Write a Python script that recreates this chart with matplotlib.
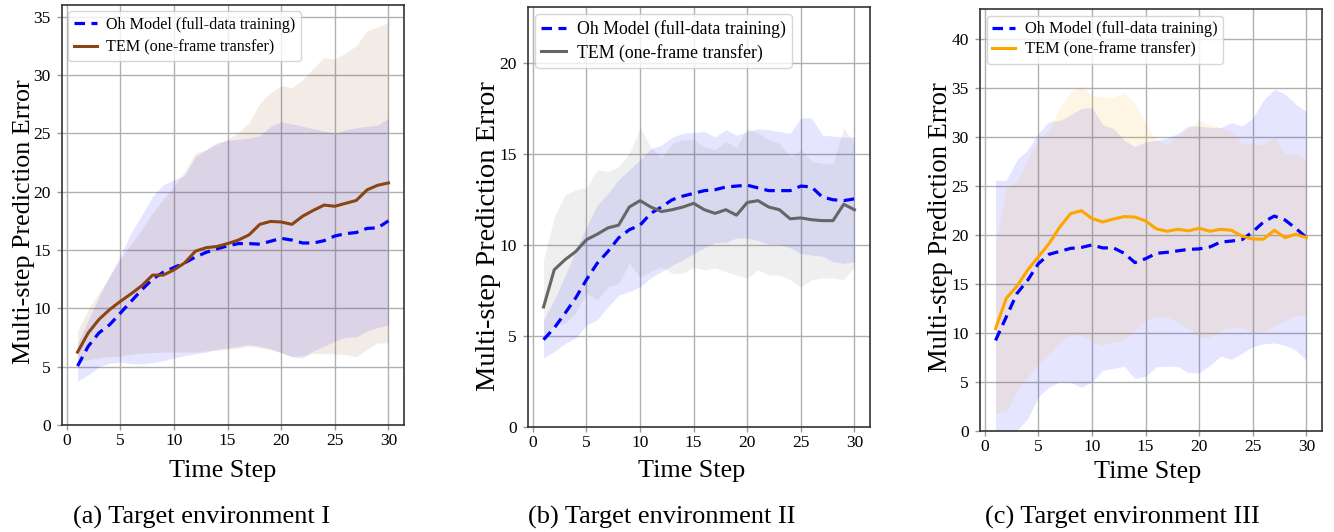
import numpy as np
import matplotlib
matplotlib.use("Agg")
import matplotlib.pyplot as plt

plt.rcParams['font.family'] = ['Liberation Serif', 'DejaVu Serif']
plt.rcParams['mathtext.fontset'] = 'stix'

steps = list(range(1, 31))

# ---------------- Panel (a) ----------------
a_oh_mean = [5.05, 6.75, 7.9, 8.6, 9.6, 10.6, 11.6, 12.5, 13.1, 13.5, 13.9, 14.4, 14.8, 15.1, 15.35,
             15.55, 15.55, 15.5, 15.75, 16.0, 15.85, 15.6, 15.6, 15.8, 16.2, 16.4, 16.5, 16.85, 16.9, 17.5]
a_oh_upper = [7.0, 9.0, 11.0, 12.8, 14.5, 16.5, 18.0, 19.6, 20.6, 21.0, 21.4, 23.0, 23.6, 24.2, 24.4,
              24.5, 24.6, 24.8, 25.6, 26.0, 25.8, 25.6, 25.4, 25.2, 25.0, 25.3, 25.5, 25.6, 25.7, 26.3]
a_oh_lower = [3.75, 4.3, 5.0, 5.3, 5.4, 5.25, 5.25, 5.35, 5.5, 5.75, 5.95, 6.1, 6.25, 6.5, 6.6,
              6.75, 6.9, 6.75, 6.5, 6.2, 5.85, 5.75, 6.35, 6.75, 7.2, 7.5, 7.55, 8.05, 8.35, 8.6]
a_tem_mean = [6.25, 7.9, 9.05, 9.9, 10.6, 11.25, 11.95, 12.85, 12.85, 13.3, 13.9, 14.9, 15.2, 15.3, 15.55,
              15.85, 16.3, 17.2, 17.45, 17.4, 17.2, 17.9, 18.4, 18.85, 18.75, 19.0, 19.25, 20.15, 20.55, 20.75]
a_tem_upper = [8.05, 9.9, 11.35, 12.75, 14.2, 15.5, 16.8, 18.2, 19.35, 20.5, 21.75, 23.3, 23.6, 24.05, 24.5,
               25.05, 25.9, 27.6, 28.5, 29.1, 28.9, 29.6, 30.6, 31.5, 31.35, 31.9, 32.5, 33.8, 34.1, 34.5]
a_tem_lower = [5.5, 5.6, 5.75, 5.85, 5.9, 6.05, 6.15, 6.2, 6.25, 6.25, 6.25, 6.25, 6.35, 6.4, 6.5,
               6.6, 6.75, 6.6, 6.5, 6.2, 5.85, 5.95, 6.15, 6.1, 6.1, 6.05, 5.85, 6.5, 7.05, 7.05]

# ---------------- Panel (b) ----------------
b_oh_mean = [4.8, 5.45, 6.25, 7.1, 8.1, 9.0, 9.65, 10.4, 10.85, 11.1, 11.75, 12.1, 12.5, 12.7, 12.85,
             13.0, 13.05, 13.2, 13.25, 13.3, 13.15, 13.0, 13.0, 13.0, 13.25, 13.2, 12.65, 12.5, 12.45, 12.55]
b_oh_upper = [5.9, 7.0, 8.3, 9.75, 11.0, 12.2, 12.85, 13.6, 14.15, 14.7, 15.3, 15.5, 15.95, 16.15, 16.2,
              16.25, 15.95, 16.35, 16.05, 16.25, 16.4, 16.35, 16.25, 16.15, 17.0, 17.0, 16.05, 16.0, 15.95, 15.95]
b_oh_lower = [3.8, 4.15, 4.6, 4.9, 5.6, 5.9, 6.6, 7.25, 7.45, 7.7, 8.2, 8.55, 8.9, 9.2, 9.55,
              9.85, 10.15, 10.15, 10.4, 10.4, 10.25, 10.05, 10.05, 9.85, 9.55, 9.45, 9.4, 9.1, 9.0, 9.1]
b_tem_mean = [6.6, 8.65, 9.2, 9.65, 10.3, 10.6, 10.95, 11.1, 12.1, 12.45, 12.1, 11.85, 11.95, 12.1, 12.3,
              11.95, 11.75, 11.95, 11.65, 12.35, 12.45, 12.1, 11.95, 11.45, 11.5, 11.4, 11.35, 11.35, 12.25, 11.95]
b_tem_upper = [9.2, 11.55, 12.75, 13.05, 13.15, 14.15, 14.05, 14.3, 15.05, 16.45, 15.4, 14.8, 15.6, 15.8, 15.8,
               15.4, 15.25, 15.7, 15.35, 16.45, 16.15, 15.8, 15.6, 14.85, 15.25, 14.6, 14.5, 14.5, 16.45, 15.6]
b_tem_lower = [4.95, 5.6, 5.7, 6.25, 7.35, 7.0, 7.7, 7.9, 9.0, 8.25, 8.55, 8.8, 8.45, 8.45, 8.8,
               8.65, 8.75, 8.55, 8.35, 8.2, 8.65, 8.35, 8.35, 8.1, 7.7, 8.1, 8.2, 8.2, 8.1, 8.8]

# ---------------- Panel (c) ----------------
c_oh_mean = [9.25, 11.65, 14.05, 15.4, 17.1, 18.05, 18.35, 18.65, 18.75, 19.0, 18.7, 18.7, 18.15, 17.2, 17.6,
             18.15, 18.25, 18.4, 18.55, 18.6, 18.8, 19.3, 19.4, 19.55, 20.35, 21.35, 21.95, 21.55, 20.7, 19.75]
c_oh_upper = [25.6, 25.6, 27.7, 28.7, 30.4, 31.6, 31.7, 32.3, 32.95, 33.05, 31.25, 30.9, 29.7, 29.05, 29.55,
              29.7, 29.9, 30.4, 31.15, 31.15, 31.0, 31.0, 31.5, 31.15, 31.95, 33.8, 34.9, 34.4, 33.4, 32.6]
c_oh_lower = [-0.5, -0.3, 0.05, 1.25, 3.5, 4.5, 5.0, 5.0, 4.45, 5.0, 6.2, 6.4, 6.6, 5.35, 5.6,
              6.55, 6.6, 6.6, 5.95, 5.95, 6.7, 7.65, 7.3, 7.95, 8.6, 8.9, 9.0, 8.75, 8.25, 7.2]
c_tem_mean = [10.45, 13.55, 14.8, 16.45, 17.8, 19.15, 20.85, 22.2, 22.5, 21.7, 21.35, 21.65, 21.9, 21.85, 21.45,
              20.65, 20.4, 20.6, 20.45, 20.7, 20.4, 20.6, 20.5, 19.9, 19.6, 19.6, 20.5, 19.75, 20.1, 19.75]
c_tem_upper = [19.15, 24.95, 25.45, 27.7, 29.7, 30.75, 33.1, 34.65, 35.25, 34.3, 34.1, 34.15, 34.55, 33.45, 31.4,
               29.7, 29.2, 30.05, 30.9, 31.75, 31.25, 31.0, 30.55, 29.3, 29.4, 29.15, 30.05, 28.3, 28.35, 27.7]
c_tem_lower = [1.8, 1.95, 4.15, 5.5, 6.9, 7.9, 9.1, 9.8, 9.8, 9.1, 8.75, 9.1, 9.25, 10.3, 11.3,
               11.65, 11.65, 11.15, 10.45, 9.55, 9.6, 10.3, 10.55, 10.65, 10.1, 10.1, 10.8, 11.25, 11.8, 11.8]

oh_label = "Oh Model (full-data training)"
tem_label = "TEM (one-frame transfer)"
xlabel = "Time Step"
ylabel = "Multi-step Prediction Error"
captions = ["(a) Target environment I", "(b) Target environment II", "(c) Target environment III"]

panels = [
    dict(oh=(a_oh_mean, a_oh_lower, a_oh_upper), tem=(a_tem_mean, a_tem_lower, a_tem_upper),
         color='#8B4513', ylim=(0, 36.0), yticks=list(range(0, 36, 5)),
         rect=[62/1334, 1-425/532, 342/1334, 420/532], cap_x=202/1334,
         ylab_fs=18.8, ylab_y=0.483, xlab_x=0.471, xlab_y=-(460-425)/420, leg_fs=11.6, leg_ls=0.38),
    dict(oh=(b_oh_mean, b_oh_lower, b_oh_upper), tem=(b_tem_mean, b_tem_lower, b_tem_upper),
         color='#666666', ylim=(0, 23.1), yticks=list(range(0, 21, 5)),
         rect=[528/1334, 1-427/532, 342/1334, 420/532], cap_x=662/1334,
         ylab_fs=20.5, ylab_y=0.455, xlab_x=0.477, xlab_y=-(460-427)/420, leg_fs=12.8, leg_ls=0.3),
    dict(oh=(c_oh_mean, c_oh_lower, c_oh_upper), tem=(c_tem_mean, c_tem_lower, c_tem_upper),
         color='#FFA500', ylim=(0, 43.1), yticks=list(range(0, 41, 5)),
         rect=[980/1334, 1-431/532, 342/1334, 422/532], cap_x=1122/1334,
         ylab_fs=19.2, ylab_y=0.483, xlab_x=0.491, xlab_y=-(461-431)/422, leg_fs=11.8, leg_ls=0.28),
]

fig = plt.figure(figsize=(13.34, 5.32), dpi=100)

for p, cap in zip(panels, captions):
    ax = fig.add_axes(p['rect'])
    om, ol, ou = p['oh']
    tm, tl, tu = p['tem']
    ax.fill_between(steps, ol, ou, color='blue', alpha=0.1, linewidth=0)
    ax.fill_between(steps, tl, tu, color=p['color'], alpha=0.1, linewidth=0)
    ax.plot(steps, om, linestyle=(0, (3.3, 2.0)), color='blue', linewidth=2.3, label=oh_label, zorder=3)
    ax.plot(steps, tm, linestyle='-', color=p['color'], linewidth=2.2, label=tem_label, zorder=3)
    ax.set_xlim(-0.45, 31.45)
    ax.set_ylim(*p['ylim'])
    ax.set_xticks([0, 5, 10, 15, 20, 25, 30])
    ax.set_yticks(p['yticks'])
    ax.grid(True, color='#b0b0b0', linewidth=1.0)
    ax.set_axisbelow(True)
    ax.tick_params(axis='both', length=3.5, width=1.0, color='#999999', labelsize=12.5)
    ax.tick_params(axis='y', pad=4.5)
    ax.tick_params(axis='x', pad=2.5)
    for s in ax.spines.values():
        s.set_color('#333333')
        s.set_linewidth(1.2)
    ax.set_xlabel(xlabel, fontsize=18.8)
    ax.xaxis.set_label_coords(p['xlab_x'], p['xlab_y'])
    ax.xaxis.label.set_va('top')
    ax.set_ylabel(ylabel, fontsize=p['ylab_fs'])
    ax.yaxis.set_label_coords(-27/342, p['ylab_y'])
    ax.legend(loc='upper left', fontsize=p['leg_fs'], handlelength=1.4, handletextpad=0.6,
              borderaxespad=0.4, borderpad=0.35, labelspacing=p['leg_ls'],
              framealpha=0.8, edgecolor='#cccccc')
    fig.text(p['cap_x'], 1-517/532, cap, fontsize=19, ha='center', va='center')

fig.savefig('out.png', dpi=100)
